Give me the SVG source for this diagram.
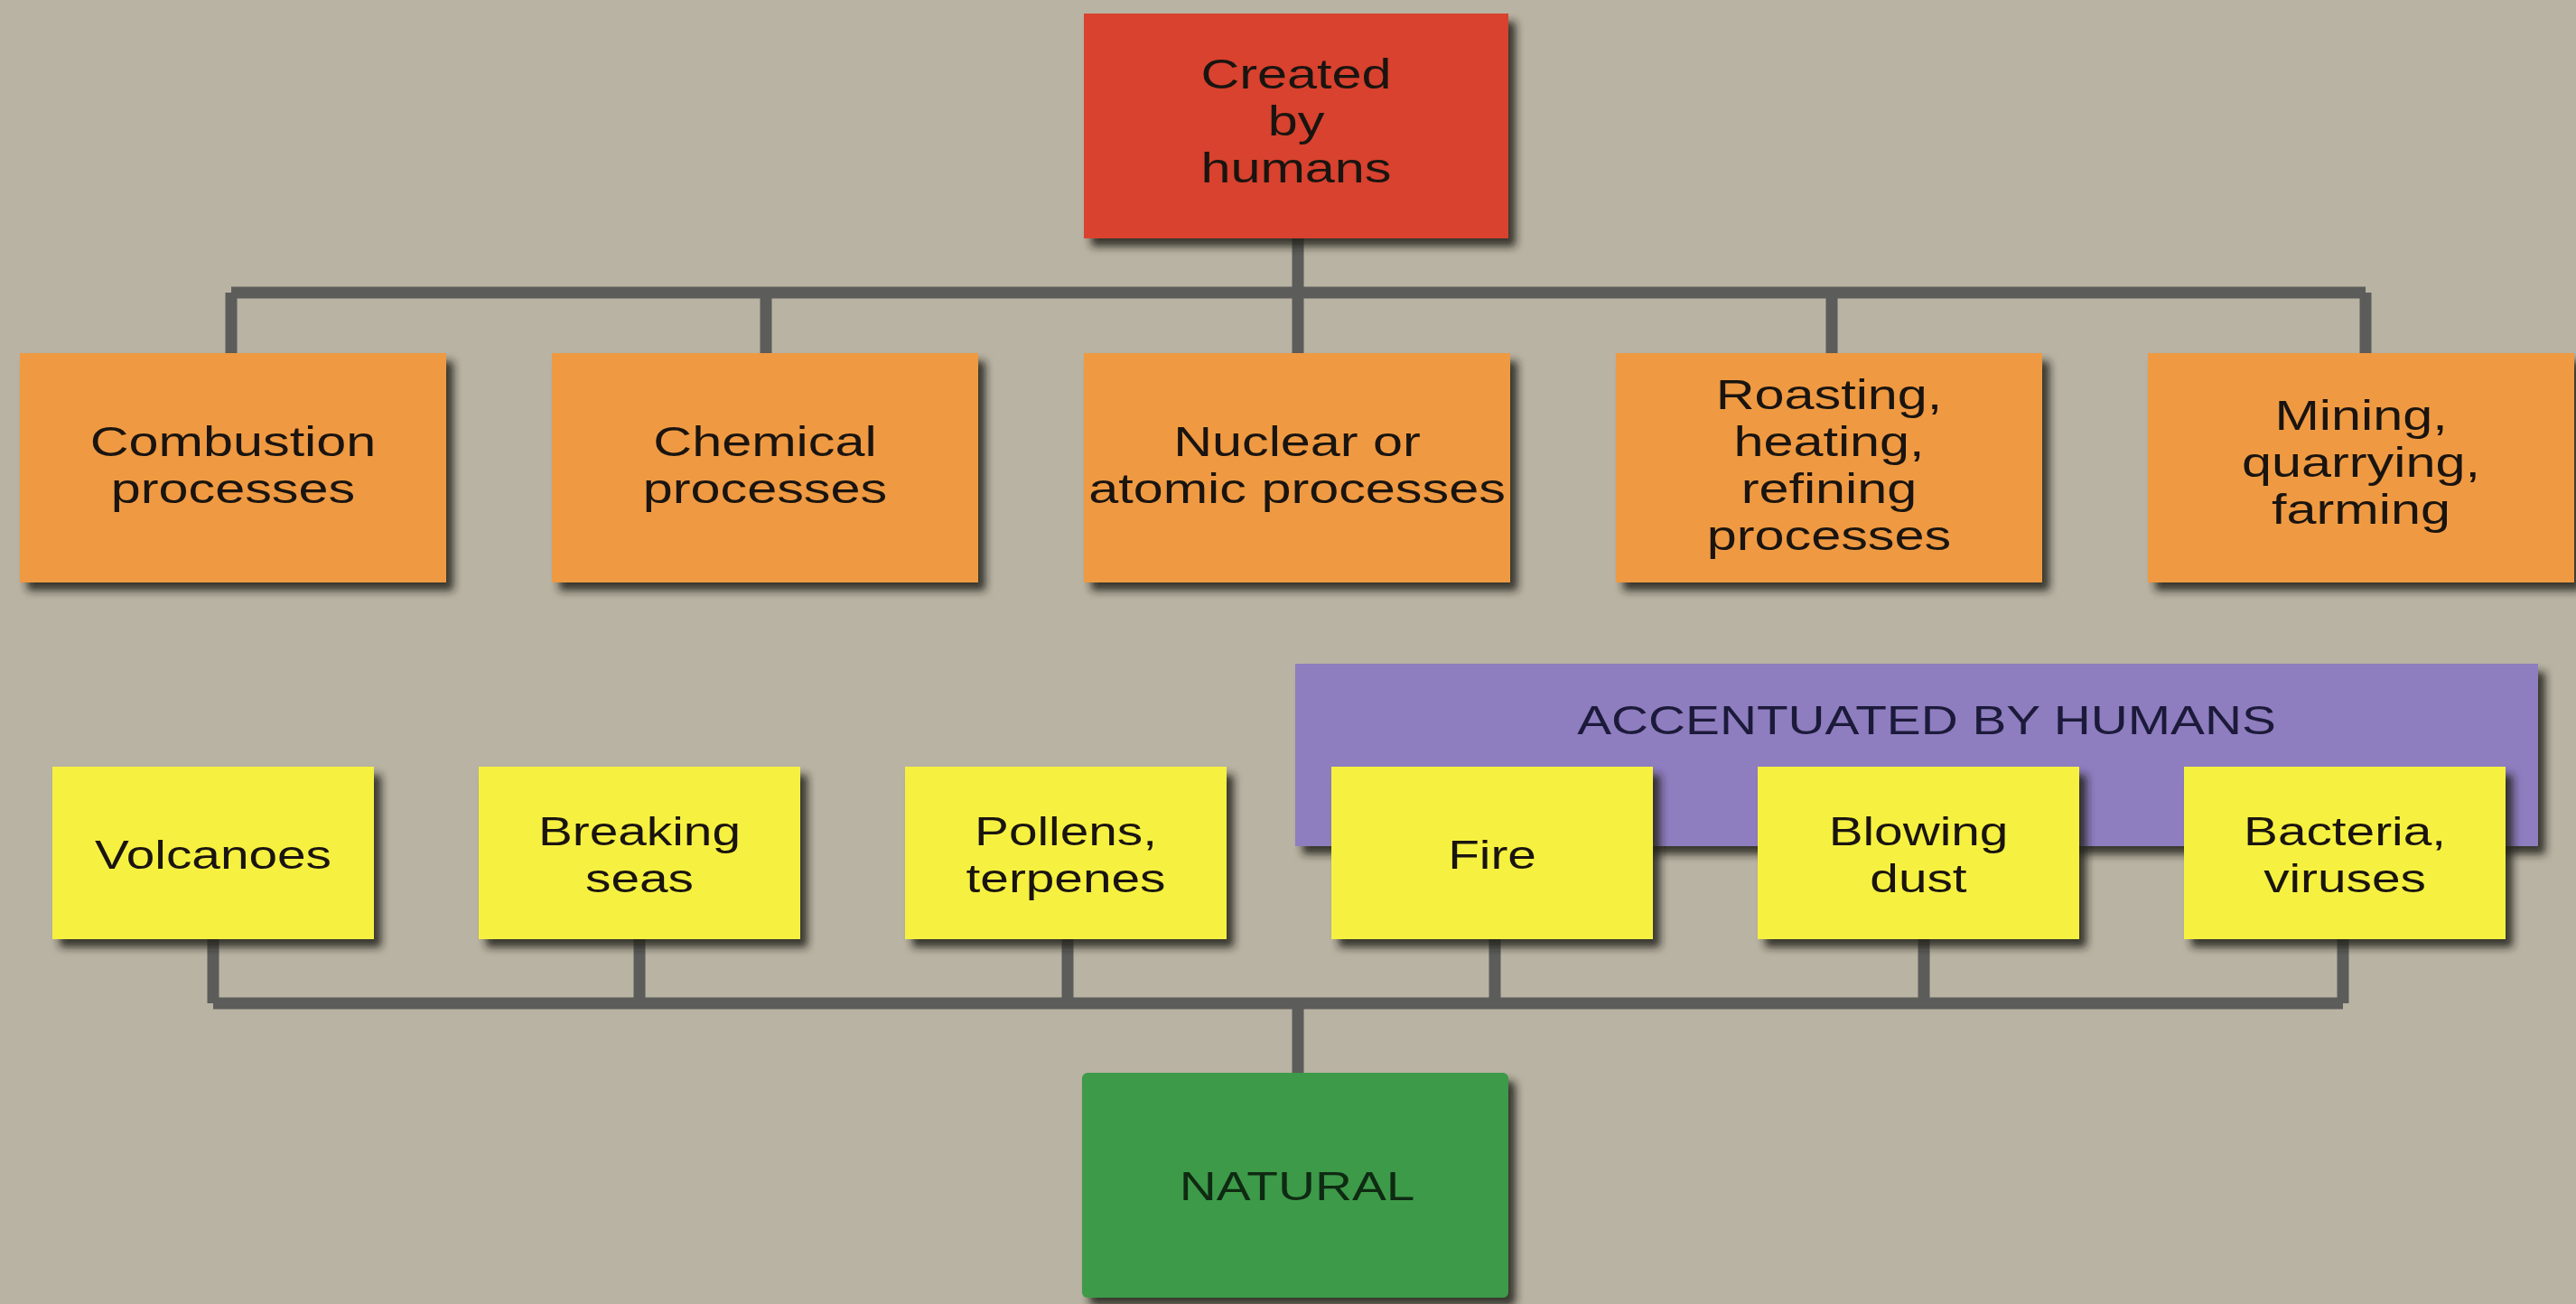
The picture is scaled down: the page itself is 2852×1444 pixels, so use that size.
<svg xmlns="http://www.w3.org/2000/svg" width="2852" height="1444" viewBox="0 0 2852 1444">
<defs>
<filter id="sh" x="-10%" y="-10%" width="125%" height="130%">
<feDropShadow dx="8" dy="9" stdDeviation="5" flood-color="#1e1e14" flood-opacity="0.85"/>
</filter>
<style>
.bg{fill:#b9b3a3}
.con{fill:none;stroke:#5c5c5a;stroke-width:13;stroke-linecap:butt}
.red{fill:#d8432f}
.org{fill:#ef9a43}
.yel{fill:#f6f140}
.pur{fill:#8e7dbf}
.grn{fill:#3e9a49}
.t{font-family:"Liberation Sans",Arial,sans-serif;font-size:46px;fill:#1a1410;text-anchor:middle}
.ty{font-size:44px}
.tp{font-size:44px;fill:#1c1a3a}
.tg{font-size:44px;fill:#0f2a12}
</style>
</defs>
<rect class="bg" x="0" y="0" width="2852" height="1444"/>
<g id="connectors">
<path class="con" d="M1437 264 V324 M256 324 H2619 M256 324 V391 M848 324 V391 M1437 324 V391 M2028 324 V391 M2619 324 V391"/>
<path class="con" d="M236 1040 V1111 M708 1040 V1111 M1182 1040 V1111 M1655 1040 V1111 M2130 1040 V1111 M2594 1040 V1111 M236 1111 H2594 M1437 1111 V1188"/>
</g>
<g id="created-by-humans">
<rect class="red" x="1200" y="15" width="470" height="249" filter="url(#sh)"/>
<text class="t" transform="translate(1435 0) scale(1.29 1)"><tspan x="0" y="98">Created</tspan><tspan x="0" y="150">by</tspan><tspan x="0" y="202">humans</tspan></text>
</g>
<g id="combustion">
<rect class="org" x="22" y="391" width="472" height="254" filter="url(#sh)"/>
<text class="t" transform="translate(258 0) scale(1.29 1)"><tspan x="0" y="505">Combustion</tspan><tspan x="0" y="557">processes</tspan></text>
</g>
<g id="chemical">
<rect class="org" x="611" y="391" width="472" height="254" filter="url(#sh)"/>
<text class="t" transform="translate(847 0) scale(1.29 1)"><tspan x="0" y="505">Chemical</tspan><tspan x="0" y="557">processes</tspan></text>
</g>
<g id="nuclear">
<rect class="org" x="1200" y="391" width="472" height="254" filter="url(#sh)"/>
<text class="t" transform="translate(1436 0) scale(1.29 1)"><tspan x="0" y="505">Nuclear or</tspan><tspan x="0" y="557">atomic processes</tspan></text>
</g>
<g id="roasting">
<rect class="org" x="1789" y="391" width="472" height="254" filter="url(#sh)"/>
<text class="t" transform="translate(2025 0) scale(1.29 1)"><tspan x="0" y="453">Roasting,</tspan><tspan x="0" y="505">heating,</tspan><tspan x="0" y="557">refining</tspan><tspan x="0" y="609">processes</tspan></text>
</g>
<g id="mining">
<rect class="org" x="2378" y="391" width="472" height="254" filter="url(#sh)"/>
<text class="t" transform="translate(2614 0) scale(1.29 1)"><tspan x="0" y="476">Mining,</tspan><tspan x="0" y="528">quarrying,</tspan><tspan x="0" y="580">farming</tspan></text>
</g>
<g id="accentuated-by-humans">
<rect class="pur" x="1434" y="735" width="1376" height="202" filter="url(#sh)"/>
<text class="t tp" transform="translate(2133 0) scale(1.29 1)" x="0" y="813">ACCENTUATED BY HUMANS</text>
</g>
<g id="volcanoes">
<rect class="yel" x="58" y="849" width="356" height="191" filter="url(#sh)"/>
<text class="t ty" transform="translate(236 0) scale(1.29 1)" x="0" y="962">Volcanoes</text>
</g>
<g id="breaking-seas">
<rect class="yel" x="530" y="849" width="356" height="191" filter="url(#sh)"/>
<text class="t ty" transform="translate(708 0) scale(1.29 1)"><tspan x="0" y="936">Breaking</tspan><tspan x="0" y="988">seas</tspan></text>
</g>
<g id="pollens">
<rect class="yel" x="1002" y="849" width="356" height="191" filter="url(#sh)"/>
<text class="t ty" transform="translate(1180 0) scale(1.29 1)"><tspan x="0" y="936">Pollens,</tspan><tspan x="0" y="988">terpenes</tspan></text>
</g>
<g id="fire">
<rect class="yel" x="1474" y="849" width="356" height="191" filter="url(#sh)"/>
<text class="t ty" transform="translate(1652 0) scale(1.29 1)" x="0" y="962">Fire</text>
</g>
<g id="blowing-dust">
<rect class="yel" x="1946" y="849" width="356" height="191" filter="url(#sh)"/>
<text class="t ty" transform="translate(2124 0) scale(1.29 1)"><tspan x="0" y="936">Blowing</tspan><tspan x="0" y="988">dust</tspan></text>
</g>
<g id="bacteria">
<rect class="yel" x="2418" y="849" width="356" height="191" filter="url(#sh)"/>
<text class="t ty" transform="translate(2596 0) scale(1.29 1)"><tspan x="0" y="936">Bacteria,</tspan><tspan x="0" y="988">viruses</tspan></text>
</g>
<g id="natural">
<rect class="grn" x="1198" y="1188" width="472" height="249" rx="6" filter="url(#sh)"/>
<text class="t tg" transform="translate(1436 0) scale(1.29 1)" x="0" y="1329">NATURAL</text>
</g>
</svg>
